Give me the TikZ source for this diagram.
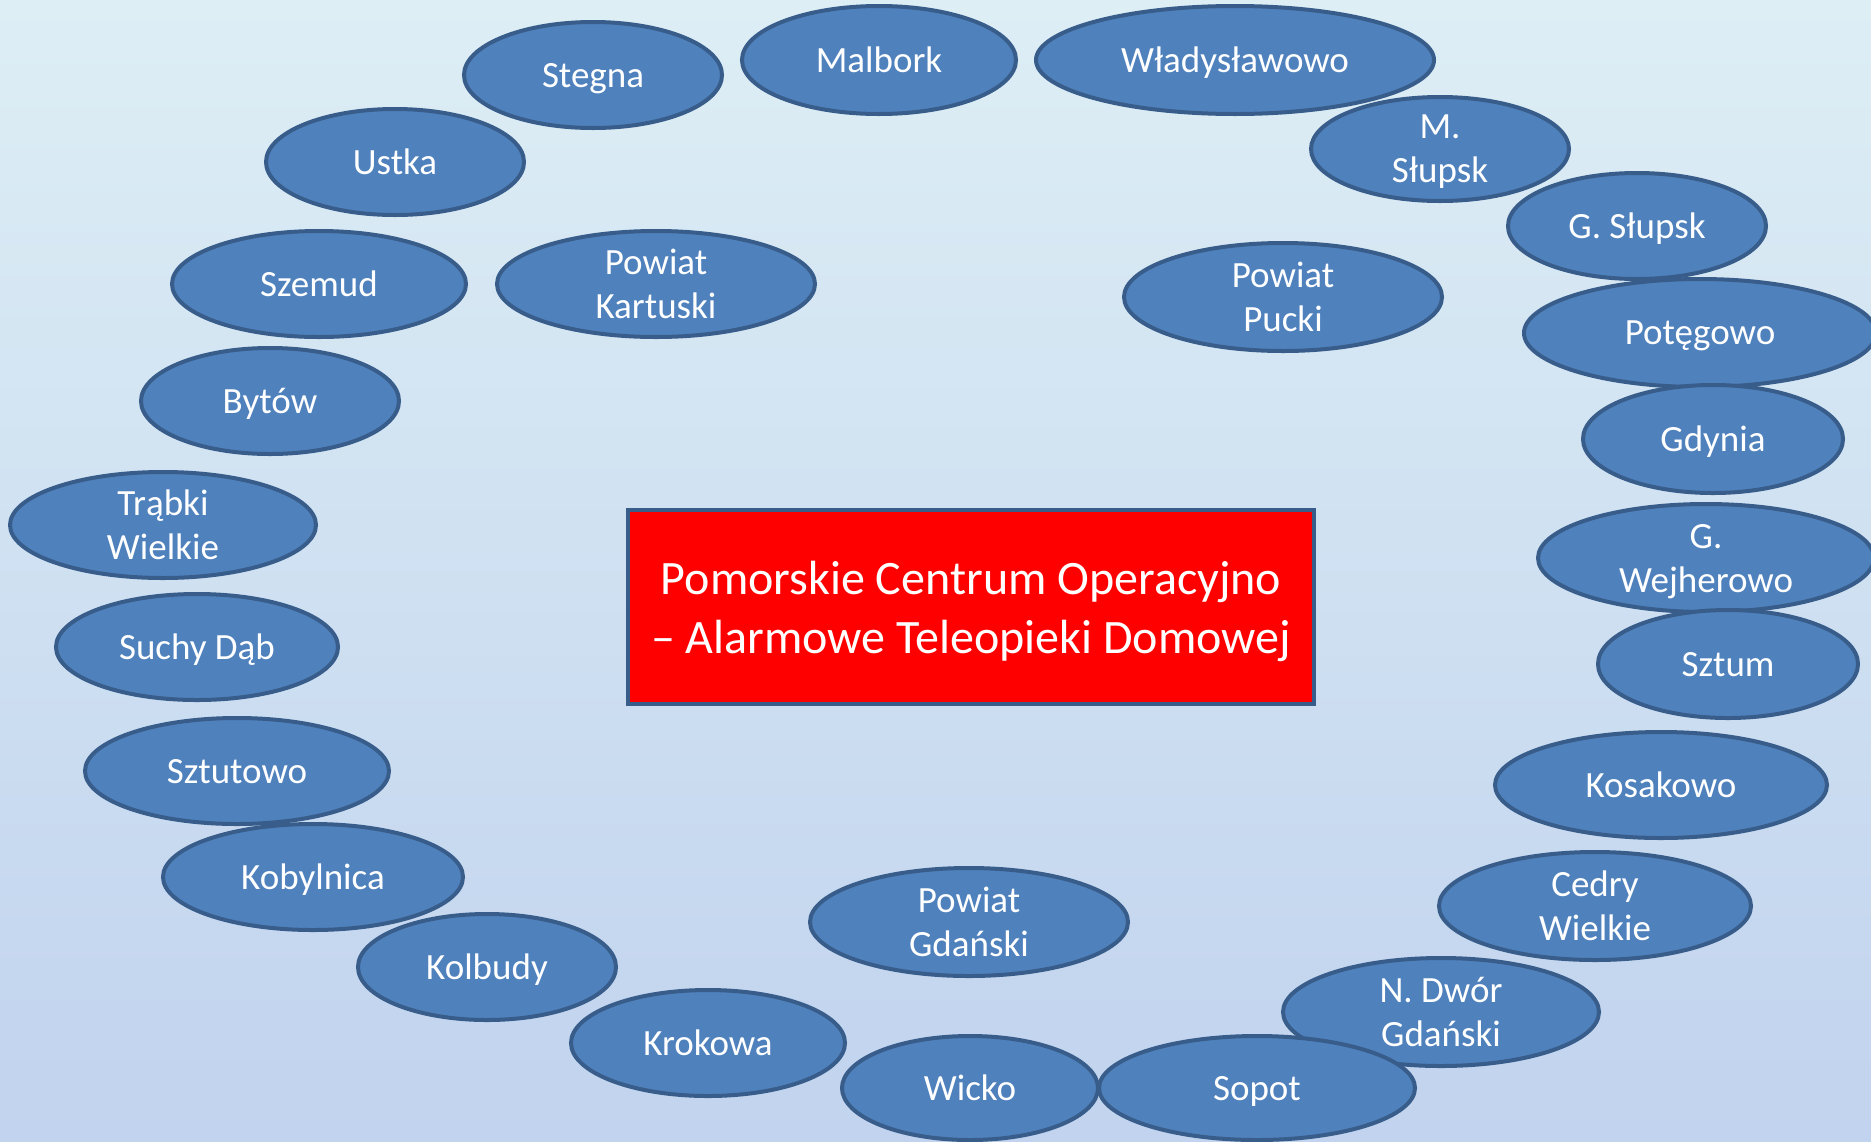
\documentclass[tikz,border=0pt]{standalone}
\usepackage{fontspec}
\setmainfont{Carlito}
\usetikzlibrary{shapes.geometric}
\definecolor{bgtop}{RGB}{221,238,245}
\definecolor{bgbot}{RGB}{193,211,238}
\definecolor{ellfill}{RGB}{79,129,189}
\definecolor{ellline}{RGB}{56,93,138}
\definecolor{boxred}{RGB}{255,0,0}
\tikzset{
  place/.style={ellipse, draw=ellline, fill=ellfill, line width=4pt, inner sep=0pt,
    text=white, align=center, text depth=0pt, font=\fontsize{37}{44}\selectfont},
  centerbox/.style={rectangle, draw=ellline, fill=boxred, line width=4pt, inner sep=0pt,
    text=white, align=center, text depth=0pt, font=\fontsize{48}{59}\selectfont}
}
\newcommand{\pl}[6]{\node[place, minimum width=#4pt, minimum height=#5pt] (#1) at (#2,#3) {#6};}
\begin{document}
\begin{tikzpicture}[x=1pt,y=-1pt]
\useasboundingbox (0,0) rectangle (1871,1141);
\shade[top color=bgtop, bottom color=bgbot] (0,0) rectangle (1871,1141);
\pl{stegna}{593}{75}{258}{106}{Stegna}
\pl{malbork}{879}{60}{274}{108}{Malbork}
\pl{wlad}{1235}{60}{398}{108}{Władysławowo}
\pl{mslupsk}{1440}{149}{258}{104}{M.\\Słupsk}
\pl{gslupsk}{1637}{226}{258}{106}{G. Słupsk}
\pl{pucki}{1283}{297}{318}{108}{Powiat\\Pucki}
\pl{potegowo}{1700}{333}{352}{108}{Potęgowo}
\pl{gdynia}{1713}{439}{260}{108}{Gdynia}
\pl{gwejh}{1706}{558}{336}{108}{G.\\Wejherowo}
\pl{sztum}{1728}{664}{260}{108}{Sztum}
\pl{kosakowo}{1661}{785}{332}{106}{Kosakowo}
\pl{cedry}{1595}{906}{312}{108}{Cedry\\Wielkie}
\pl{ndwor}{1441}{1012}{316}{108}{N. Dwór\\Gdański}
\pl{wicko}{970}{1088}{256}{104}{Wicko}
\pl{sopot}{1257}{1088}{316}{104}{Sopot}
\pl{gdanski}{969}{922}{318}{108}{Powiat\\Gdański}
\pl{kobylnica}{313}{877}{300}{106}{Kobylnica}
\pl{kolbudy}{487}{967}{258}{106}{Kolbudy}
\pl{krokowa}{708}{1043}{274}{106}{Krokowa}
\pl{sztutowo}{237}{771}{304}{106}{Sztutowo}
\pl{suchy}{197}{647}{282}{106}{Suchy Dąb}
\pl{trabki}{163}{525}{306}{106}{Trąbki\\Wielkie}
\pl{bytow}{270}{401}{258}{106}{Bytów}
\pl{szemud}{319}{284}{294}{106}{Szemud}
\pl{kartuski}{656}{284}{318}{106}{Powiat\\Kartuski}
\pl{ustka}{395}{162}{258}{106}{Ustka}
\node[centerbox, minimum width=686pt, minimum height=194pt] (pcoa) at (971,607)
  {Pomorskie Centrum Operacyjno\\– Alarmowe Teleopieki Domowej};
\end{tikzpicture}
\end{document}
